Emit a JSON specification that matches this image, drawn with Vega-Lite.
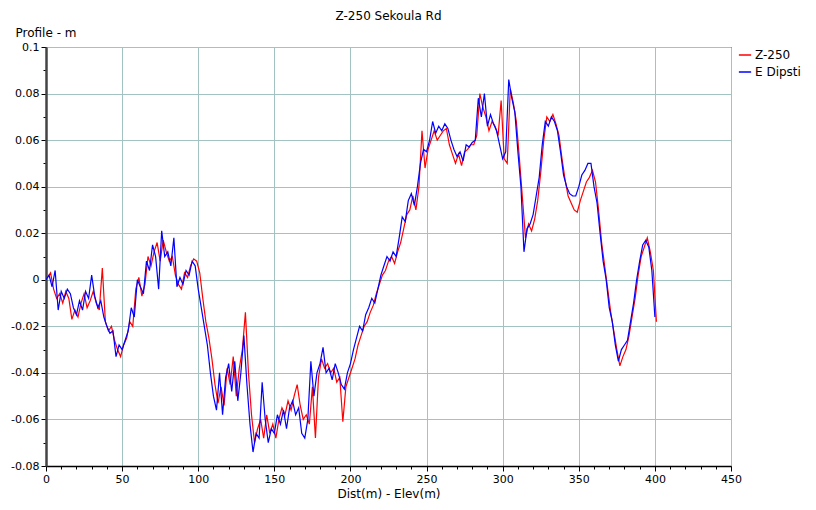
{
  "$schema": "https://vega.github.io/schema/vega-lite/v6.json",
  "width": 685,
  "height": 419,
  "autosize": {"type": "none"},
  "padding": {"left": 46, "top": 47, "right": 85, "bottom": 44},
  "background": "white",
  "title": {"text": "Z-250 Sekoula Rd", "fontSize": 12, "fontWeight": "normal", "font": "DejaVu Sans", "color": "black", "offset": 3, "anchor": "middle"},
  "config": {
    "view": {"stroke": "black", "strokeWidth": 1},
    "font": "DejaVu Sans"
  },
  "datasets": {
    "dipsti": [
      {"d":0,"v":0.000},{"d":2,"v":0.002},{"d":4,"v":-0.003},{"d":6,"v":0.004},{"d":8,"v":-0.013},{"d":10,"v":-0.005},{"d":12,"v":-0.008},{"d":14,"v":-0.004},{"d":16,"v":-0.006},{"d":18,"v":-0.012},
      {"d":20,"v":-0.015},{"d":22,"v":-0.009},{"d":24,"v":-0.013},{"d":26,"v":-0.005},{"d":28,"v":-0.008},{"d":30,"v":0.002},{"d":32,"v":-0.007},{"d":34,"v":-0.012},{"d":36,"v":-0.009},{"d":38,"v":-0.016},
      {"d":40,"v":-0.020},{"d":42,"v":-0.023},{"d":44,"v":-0.022},{"d":46,"v":-0.033},{"d":48,"v":-0.028},{"d":50,"v":-0.030},{"d":52,"v":-0.026},{"d":54,"v":-0.022},{"d":56,"v":-0.012},{"d":58,"v":-0.016},
      {"d":60,"v":0.000},{"d":62,"v":-0.003},{"d":64,"v":-0.006},{"d":66,"v":0.008},{"d":68,"v":0.004},{"d":70,"v":0.015},{"d":72,"v":0.010},{"d":74,"v":-0.004},{"d":76,"v":0.021},{"d":78,"v":0.010},
      {"d":80,"v":0.012},{"d":82,"v":0.006},{"d":84,"v":0.018},{"d":86,"v":-0.003},{"d":88,"v":0.001},{"d":90,"v":-0.002},{"d":92,"v":0.004},{"d":94,"v":0.002},{"d":96,"v":0.008},{"d":98,"v":0.006},
      {"d":100,"v":-0.004},{"d":102,"v":-0.012},{"d":104,"v":-0.020},{"d":106,"v":-0.028},{"d":108,"v":-0.040},{"d":110,"v":-0.050},{"d":112,"v":-0.056},{"d":114,"v":-0.040},{"d":116,"v":-0.058},{"d":118,"v":-0.042},
      {"d":120,"v":-0.036},{"d":122,"v":-0.048},{"d":124,"v":-0.035},{"d":126,"v":-0.052},{"d":128,"v":-0.040},{"d":130,"v":-0.024},{"d":132,"v":-0.045},{"d":134,"v":-0.062},{"d":136,"v":-0.074},{"d":138,"v":-0.066},
      {"d":140,"v":-0.068},{"d":142,"v":-0.044},{"d":144,"v":-0.060},{"d":146,"v":-0.070},{"d":148,"v":-0.064},{"d":150,"v":-0.066},{"d":152,"v":-0.058},{"d":154,"v":-0.062},{"d":156,"v":-0.056},{"d":158,"v":-0.064},
      {"d":160,"v":-0.055},{"d":162,"v":-0.052},{"d":164,"v":-0.058},{"d":166,"v":-0.055},{"d":168,"v":-0.066},{"d":170,"v":-0.068},{"d":172,"v":-0.060},{"d":174,"v":-0.035},{"d":176,"v":-0.050},{"d":178,"v":-0.040},
      {"d":180,"v":-0.036},{"d":182,"v":-0.029},{"d":184,"v":-0.040},{"d":186,"v":-0.038},{"d":188,"v":-0.043},{"d":190,"v":-0.036},{"d":192,"v":-0.040},{"d":194,"v":-0.045},{"d":196,"v":-0.047},{"d":198,"v":-0.040},
      {"d":200,"v":-0.036},{"d":202,"v":-0.030},{"d":204,"v":-0.025},{"d":206,"v":-0.020},{"d":208,"v":-0.022},{"d":210,"v":-0.015},{"d":212,"v":-0.012},{"d":214,"v":-0.008},{"d":216,"v":-0.010},{"d":218,"v":-0.004},
      {"d":220,"v":0.002},{"d":222,"v":0.006},{"d":224,"v":0.010},{"d":226,"v":0.008},{"d":228,"v":0.012},{"d":230,"v":0.010},{"d":232,"v":0.018},{"d":234,"v":0.027},{"d":236,"v":0.025},{"d":238,"v":0.034},
      {"d":240,"v":0.037},{"d":242,"v":0.032},{"d":244,"v":0.040},{"d":246,"v":0.050},{"d":248,"v":0.056},{"d":250,"v":0.055},{"d":252,"v":0.060},{"d":254,"v":0.068},{"d":256,"v":0.063},{"d":258,"v":0.066},
      {"d":260,"v":0.064},{"d":262,"v":0.067},{"d":264,"v":0.065},{"d":266,"v":0.060},{"d":268,"v":0.056},{"d":270,"v":0.053},{"d":272,"v":0.055},{"d":274,"v":0.051},{"d":276,"v":0.058},{"d":278,"v":0.057},
      {"d":280,"v":0.059},{"d":282,"v":0.060},{"d":284,"v":0.078},{"d":286,"v":0.070},{"d":288,"v":0.080},{"d":290,"v":0.066},{"d":292,"v":0.071},{"d":294,"v":0.067},{"d":296,"v":0.064},{"d":298,"v":0.058},
      {"d":300,"v":0.052},{"d":302,"v":0.055},{"d":304,"v":0.086},{"d":306,"v":0.078},{"d":308,"v":0.072},{"d":310,"v":0.055},{"d":312,"v":0.040},{"d":314,"v":0.012},{"d":316,"v":0.022},{"d":318,"v":0.024},
      {"d":320,"v":0.028},{"d":322,"v":0.036},{"d":324,"v":0.044},{"d":326,"v":0.058},{"d":328,"v":0.068},{"d":330,"v":0.066},{"d":332,"v":0.070},{"d":334,"v":0.068},{"d":336,"v":0.064},{"d":338,"v":0.055},
      {"d":340,"v":0.045},{"d":342,"v":0.040},{"d":344,"v":0.037},{"d":346,"v":0.036},{"d":348,"v":0.036},{"d":350,"v":0.040},{"d":352,"v":0.045},{"d":354,"v":0.047},{"d":356,"v":0.050},{"d":358,"v":0.050},
      {"d":360,"v":0.040},{"d":362,"v":0.033},{"d":364,"v":0.020},{"d":366,"v":0.008},{"d":368,"v":0.000},{"d":370,"v":-0.012},{"d":372,"v":-0.018},{"d":374,"v":-0.028},{"d":376,"v":-0.035},{"d":378,"v":-0.030},
      {"d":380,"v":-0.028},{"d":382,"v":-0.026},{"d":384,"v":-0.018},{"d":386,"v":-0.010},{"d":388,"v":0.000},{"d":390,"v":0.008},{"d":392,"v":0.015},{"d":394,"v":0.017},{"d":396,"v":0.014},{"d":398,"v":0.004},
      {"d":400,"v":-0.016}
    ],
    "z250": [
      {"d":1,"v":0.001},{"d":3,"v":0.003},{"d":5,"v":-0.004},{"d":7,"v":-0.008},{"d":9,"v":-0.006},{"d":11,"v":-0.010},{"d":13,"v":-0.005},{"d":15,"v":-0.008},{"d":17,"v":-0.017},{"d":19,"v":-0.013},
      {"d":21,"v":-0.016},{"d":23,"v":-0.010},{"d":25,"v":-0.006},{"d":27,"v":-0.012},{"d":29,"v":-0.009},{"d":31,"v":-0.005},{"d":33,"v":-0.010},{"d":35,"v":-0.013},{"d":37,"v":0.005},{"d":39,"v":-0.018},
      {"d":41,"v":-0.022},{"d":43,"v":-0.020},{"d":45,"v":-0.026},{"d":47,"v":-0.030},{"d":49,"v":-0.033},{"d":51,"v":-0.028},{"d":53,"v":-0.025},{"d":55,"v":-0.018},{"d":57,"v":-0.020},{"d":59,"v":-0.004},
      {"d":61,"v":0.001},{"d":63,"v":-0.007},{"d":65,"v":-0.002},{"d":67,"v":0.010},{"d":69,"v":0.006},{"d":71,"v":0.012},{"d":73,"v":0.016},{"d":75,"v":0.008},{"d":77,"v":0.017},{"d":79,"v":0.012},
      {"d":81,"v":0.008},{"d":83,"v":0.010},{"d":85,"v":0.002},{"d":87,"v":-0.002},{"d":89,"v":-0.004},{"d":91,"v":0.003},{"d":93,"v":0.001},{"d":95,"v":0.006},{"d":97,"v":0.009},{"d":99,"v":0.008},
      {"d":101,"v":0.003},{"d":103,"v":-0.008},{"d":105,"v":-0.018},{"d":107,"v":-0.025},{"d":109,"v":-0.034},{"d":111,"v":-0.045},{"d":113,"v":-0.053},{"d":115,"v":-0.046},{"d":117,"v":-0.054},{"d":119,"v":-0.038},
      {"d":121,"v":-0.045},{"d":123,"v":-0.033},{"d":125,"v":-0.050},{"d":127,"v":-0.038},{"d":129,"v":-0.030},{"d":131,"v":-0.014},{"d":133,"v":-0.040},{"d":135,"v":-0.058},{"d":137,"v":-0.070},{"d":139,"v":-0.064},
      {"d":141,"v":-0.060},{"d":143,"v":-0.068},{"d":145,"v":-0.058},{"d":147,"v":-0.066},{"d":149,"v":-0.062},{"d":151,"v":-0.068},{"d":153,"v":-0.060},{"d":155,"v":-0.055},{"d":157,"v":-0.058},{"d":159,"v":-0.052},
      {"d":161,"v":-0.056},{"d":163,"v":-0.050},{"d":165,"v":-0.045},{"d":167,"v":-0.054},{"d":169,"v":-0.060},{"d":171,"v":-0.058},{"d":173,"v":-0.062},{"d":175,"v":-0.046},{"d":177,"v":-0.068},{"d":179,"v":-0.042},
      {"d":181,"v":-0.034},{"d":183,"v":-0.038},{"d":185,"v":-0.036},{"d":187,"v":-0.040},{"d":189,"v":-0.038},{"d":191,"v":-0.044},{"d":193,"v":-0.042},{"d":195,"v":-0.061},{"d":197,"v":-0.046},{"d":199,"v":-0.042},
      {"d":201,"v":-0.038},{"d":203,"v":-0.034},{"d":205,"v":-0.028},{"d":207,"v":-0.024},{"d":209,"v":-0.020},{"d":211,"v":-0.018},{"d":213,"v":-0.014},{"d":215,"v":-0.011},{"d":217,"v":-0.006},{"d":219,"v":-0.002},
      {"d":221,"v":0.002},{"d":223,"v":0.004},{"d":225,"v":0.008},{"d":227,"v":0.010},{"d":229,"v":0.007},{"d":231,"v":0.012},{"d":233,"v":0.016},{"d":235,"v":0.022},{"d":237,"v":0.028},{"d":239,"v":0.030},
      {"d":241,"v":0.036},{"d":243,"v":0.030},{"d":245,"v":0.040},{"d":247,"v":0.064},{"d":249,"v":0.048},{"d":251,"v":0.056},{"d":253,"v":0.060},{"d":255,"v":0.064},{"d":257,"v":0.060},{"d":259,"v":0.062},
      {"d":261,"v":0.064},{"d":263,"v":0.065},{"d":265,"v":0.058},{"d":267,"v":0.054},{"d":269,"v":0.050},{"d":271,"v":0.054},{"d":273,"v":0.049},{"d":275,"v":0.055},{"d":277,"v":0.056},{"d":279,"v":0.058},
      {"d":281,"v":0.058},{"d":283,"v":0.062},{"d":285,"v":0.080},{"d":287,"v":0.074},{"d":289,"v":0.070},{"d":291,"v":0.064},{"d":293,"v":0.068},{"d":295,"v":0.066},{"d":297,"v":0.062},{"d":299,"v":0.077},
      {"d":301,"v":0.052},{"d":303,"v":0.050},{"d":305,"v":0.082},{"d":307,"v":0.076},{"d":309,"v":0.068},{"d":311,"v":0.052},{"d":313,"v":0.035},{"d":315,"v":0.018},{"d":317,"v":0.024},{"d":319,"v":0.021},
      {"d":321,"v":0.026},{"d":323,"v":0.034},{"d":325,"v":0.046},{"d":327,"v":0.060},{"d":329,"v":0.070},{"d":331,"v":0.068},{"d":333,"v":0.071},{"d":335,"v":0.067},{"d":337,"v":0.062},{"d":339,"v":0.052},
      {"d":341,"v":0.043},{"d":343,"v":0.036},{"d":345,"v":0.033},{"d":347,"v":0.030},{"d":349,"v":0.029},{"d":351,"v":0.034},{"d":353,"v":0.038},{"d":355,"v":0.042},{"d":357,"v":0.044},{"d":359,"v":0.047},
      {"d":361,"v":0.042},{"d":363,"v":0.030},{"d":365,"v":0.016},{"d":367,"v":0.006},{"d":369,"v":-0.004},{"d":371,"v":-0.014},{"d":373,"v":-0.022},{"d":375,"v":-0.030},{"d":377,"v":-0.037},{"d":379,"v":-0.033},
      {"d":381,"v":-0.030},{"d":383,"v":-0.024},{"d":385,"v":-0.016},{"d":387,"v":-0.008},{"d":389,"v":0.002},{"d":391,"v":0.010},{"d":393,"v":0.014},{"d":395,"v":0.018},{"d":397,"v":0.012},{"d":399,"v":0.004},
      {"d":401,"v":-0.018}
    ]
  },
  "encoding": {
    "x": {
      "field": "d", "type": "quantitative",
      "scale": {"domain": [0, 450], "nice": false, "zero": false},
      "axis": {
        "title": "Dist(m) - Elev(m)",
        "titleFontSize": 12, "titleFontWeight": "normal", "titleColor": "black", "titlePadding": 4,
        "values": [0,10,20,30,40,50,60,70,80,90,100,110,120,130,140,150,160,170,180,190,200,210,220,230,240,250,260,270,280,290,300,310,320,330,340,350,360,370,380,390,400,410,420,430,440,450],
        "labelExpr": "datum.value % 50 == 0 ? datum.label : ''",
        "labelFontSize": 11, "labelColor": "black", "labelFlush": false, "labelPadding": 2,
        "grid": true,
        "gridColor": "#a3c3c3",
        "gridOpacity": {"condition": {"test": "datum.value % 50 != 0", "value": 0}, "value": 1},
        "tickSize": {"condition": {"test": "datum.value % 50 != 0", "value": 3}, "value": 5},
        "tickColor": "black",
        "domainColor": "black", "domainWidth": 1.5
      }
    },
    "y": {
      "field": "v", "type": "quantitative",
      "scale": {"domain": [-0.08, 0.1], "nice": false, "zero": false},
      "axis": {
        "title": "Profile - m",
        "titleAngle": 0, "titleAlign": "left", "titleBaseline": "alphabetic",
        "titleX": -31, "titleY": -11,
        "titleFontSize": 12, "titleFontWeight": "normal", "titleColor": "black",
        "values": [-0.08,-0.07,-0.06,-0.05,-0.04,-0.03,-0.02,-0.01,0,0.01,0.02,0.03,0.04,0.05,0.06,0.07,0.08,0.09,0.1],
        "labelExpr": "abs(round(datum.value*100)) % 2 == 0 ? (datum.value == 0 ? '0' : toString(round(datum.value*100)/100)) : ''",
        "labelFontSize": 11, "labelColor": "black", "labelPadding": 2,
        "grid": true,
        "gridColor": "#a3c3c3",
        "gridOpacity": {"condition": {"test": "abs(round(datum.value*100)) % 2 != 0", "value": 0}, "value": 1},
        "tickSize": {"condition": {"test": "abs(round(datum.value*100)) % 2 != 0", "value": 3}, "value": 5},
        "tickColor": "black",
        "domainColor": "#444444", "domainWidth": 2.5
      }
    }
  },
  "layer": [
    {
      "data": {"name": "z250"},
      "mark": {"type": "line", "strokeWidth": 1.2, "clip": true},
      "encoding": {
        "color": {
          "datum": "Z-250",
          "scale": {"domain": ["Z-250", "E Dipsti"], "range": ["#ff0000", "#0000ff"]},
          "legend": {
            "title": null, "orient": "none", "legendX": 692, "legendY": 1,
            "symbolType": "stroke", "symbolSize": 150, "symbolStrokeWidth": 1.5,
            "labelFontSize": 12, "labelColor": "black", "rowPadding": 4, "labelOffset": 3
          }
        }
      }
    },
    {
      "data": {"name": "dipsti"},
      "mark": {"type": "line", "strokeWidth": 1.2, "clip": true},
      "encoding": {
        "color": {"datum": "E Dipsti"}
      }
    }
  ]
}
